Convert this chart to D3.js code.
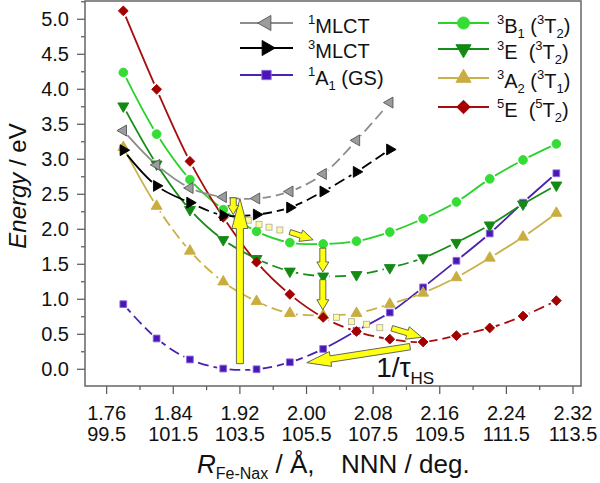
<!DOCTYPE html>
<html><head><meta charset="utf-8">
<script src="https://cdn.jsdelivr.net/npm/d3@7"></script>
<style>
body{margin:0;background:#fff}
svg text{font-family:"Liberation Sans",Arial,Helvetica,sans-serif;fill:#111}
</style>
</head><body>
<svg id="c" width="600" height="483"></svg>
<script>
// ---------------- data ----------------
const rAll = [1.78,1.82,1.86,1.90,1.94,1.98,2.02,2.06,2.10,2.14,2.18,2.22,2.26,2.30];
const rMLCT = [1.78,1.82,1.86,1.90,1.94,1.98,2.02,2.06,2.10];
const xMajor = [1.76,1.84,1.92,2.00,2.08,2.16,2.24,2.32];
const xLabelsR = ["1.76","1.84","1.92","2.00","2.08","2.16","2.24","2.32"];
const xLabelsDeg = ["99.5","101.5","103.5","105.5","107.5","109.5","111.5","113.5"];
const yMajor = [0,0.5,1,1.5,2,2.5,3,3.5,4,4.5,5];

const mlct1 = [3.41,2.92,2.59,2.46,2.44,2.54,2.79,3.27,3.81];
const mlct3 = [3.13,2.62,2.38,2.20,2.21,2.31,2.54,2.82,3.14];
const gs1A1 = [0.93,0.44,0.14,0.01,0.00,0.10,0.29,0.55,0.81,1.17,1.55,1.94,2.38,2.80];
const t3B1  = [4.24,3.36,2.71,2.28,1.97,1.81,1.79,1.83,1.96,2.15,2.39,2.72,2.99,3.22];
const t3E   = [3.76,2.93,2.28,1.85,1.58,1.40,1.33,1.35,1.45,1.59,1.81,2.06,2.36,2.63];
const t3A2  = [3.17,2.33,1.69,1.25,0.97,0.80,0.77,0.80,0.93,1.09,1.31,1.59,1.89,2.23];
const q5E   = [5.12,4.00,2.97,2.17,1.53,1.07,0.74,0.54,0.43,0.39,0.48,0.59,0.76,0.98];

// annotation arrows in data units [x1,y1,x2,y2]
const arrowUp    = [1.920,0.08,1.920,2.44];
const arrowIC    = [1.912,2.45,1.912,2.21];
const arrowISC1  = [1.980,1.96,2.008,1.85];
const arrowDown1 = [2.0196,1.73,2.0196,1.39];
const arrowDown2 = [2.0196,1.28,2.0196,0.85];
const arrowISC2  = [2.1024,0.586,2.1384,0.457];
const arrowHS    = [2.1243,0.323,2.0003,0.094];
const dots1 = [[1.930,2.13],[1.943,2.07],[1.955,2.03],[1.968,1.99]];
const dots2 = [[2.036,0.743],[2.054,0.680],[2.072,0.643],[2.088,0.594]];
const rateLabelPos = [2.0836,-0.106];

// ---------------- styles ----------------
const series = [
 {key:"gs",  xs:rAll,  ys:gs1A1, line:"#4a22b0", fill:"#4b16b5", stroke:"#8a6ee0", sym:"square", rot:0,   dashed:[[1.70,2.02]]},
 {key:"a2",  xs:rAll,  ys:t3A2,  line:"#c9b24a", fill:"#c9ad3e", stroke:"#c9ad3e", sym:"tri",    rot:0,   dashed:[[1.82,2.14]]},
 {key:"e3",  xs:rAll,  ys:t3E,   line:"#188c18", fill:"#138a13", stroke:"#138a13", sym:"tri",    rot:180, dashed:[[1.94,2.14]]},
 {key:"b1",  xs:rAll,  ys:t3B1,  line:"#2ad12a", fill:"#33dd33", stroke:"#33dd33", sym:"circle", rot:0,   dashed:[]},
 {key:"e5",  xs:rAll,  ys:q5E,   line:"#a80c0c", fill:"#a30000", stroke:"#a30000", sym:"diamond",rot:0,   dashed:[[2.02,2.40]]},
 {key:"m1",  xs:rMLCT, ys:mlct1, line:"#8c8c8c", fill:"#9c9c9c", stroke:"#555",    sym:"tri",    rot:-90, dashed:[[1.90,2.40]]},
 {key:"m3",  xs:rMLCT, ys:mlct3, line:"#000",    fill:"#000",    stroke:"#000",    sym:"tri",    rot:90,  dashed:[[1.86,2.40]]}
];
const symSize = {square:46, tri:52, circle:60, diamond:48};

const svg = d3.select("#c");
const L=85,R=581,T=1,B=386;
const x = d3.scaleLinear().domain([1.734,2.3296]).range([L,R]);
const y = d3.scaleLinear().domain([-0.239,5.261]).range([B,T]);

function symPath(sym,size){
  if(sym==="square") return d3.symbol(d3.symbolSquare,size)();
  if(sym==="diamond") return d3.symbol(d3.symbolSquare,size)();
  if(sym==="circle") return d3.symbol(d3.symbolCircle,size)();
  return d3.symbol(d3.symbolTriangle,size)();
}
function symRot(s){ return s.sym==="diamond"?45:s.rot; }

const defs = svg.append("defs");
const lineGen = d3.line().x(d=>x(d[0])).y(d=>y(d[1])).curve(d3.curveCatmullRom.alpha(0.5));

const gLines = svg.append("g");
series.forEach(s=>{
  const pts = s.xs.map((v,i)=>[v,s.ys[i]]);
  const m = defs.append("mask").attr("id","m_"+s.key).attr("maskUnits","userSpaceOnUse")
     .attr("x",0).attr("y",0).attr("width",600).attr("height",483);
  m.append("rect").attr("width",600).attr("height",483).attr("fill","#fff");
  m.selectAll("circle").data(pts).join("circle")
     .attr("cx",d=>x(d[0])).attr("cy",d=>y(d[1])).attr("r",6.3).attr("fill","#000");
  const cd = defs.append("clipPath").attr("id","cd_"+s.key);
  s.dashed.forEach(iv=>cd.append("rect").attr("x",x(iv[0])).attr("y",0).attr("width",x(iv[1])-x(iv[0])).attr("height",483));
  const solid=[]; let start=1.6;
  s.dashed.forEach(iv=>{solid.push([start,iv[0]]); start=iv[1];}); solid.push([start,2.5]);
  const cs = defs.append("clipPath").attr("id","cs_"+s.key);
  solid.forEach(iv=>{ if(iv[1]>iv[0]) cs.append("rect").attr("x",x(iv[0])).attr("y",0).attr("width",x(iv[1])-x(iv[0])).attr("height",483);});
  const g = gLines.append("g").attr("mask","url(#m_"+s.key+")");
  g.append("path").attr("d",lineGen(pts)).attr("fill","none").attr("stroke",s.line)
    .attr("stroke-width",1.8).attr("clip-path","url(#cs_"+s.key+")");
  if(s.dashed.length)
    g.append("path").attr("d",lineGen(pts)).attr("fill","none").attr("stroke",s.line)
     .attr("stroke-width",1.8).attr("stroke-dasharray","11,5").attr("clip-path","url(#cd_"+s.key+")");
});
const gMarks = svg.append("g");
series.forEach(s=>{
  const pts = s.xs.map((v,i)=>[v,s.ys[i]]);
  gMarks.append("g").selectAll("path").data(pts).join("path")
    .attr("d",symPath(s.sym,symSize[s.sym]))
    .attr("transform",d=>`translate(${x(d[0])},${y(d[1])}) rotate(${symRot(s)})`)
    .attr("fill",s.fill).attr("stroke",s.stroke).attr("stroke-width",0.9);
});

// ---------------- arrows ----------------
function arrowPath(a,sw,hw,hl){
  const x1=x(a[0]),y1=y(a[1]),x2=x(a[2]),y2=y(a[3]);
  const dx=x2-x1,dy=y2-y1,Ln=Math.hypot(dx,dy),ux=dx/Ln,uy=dy/Ln,nx=-uy,ny=ux;
  const bx=x2-ux*hl,by=y2-uy*hl;
  const p=[[x1+nx*sw,y1+ny*sw],[bx+nx*sw,by+ny*sw],[bx+nx*hw,by+ny*hw],[x2,y2],
           [bx-nx*hw,by-ny*hw],[bx-nx*sw,by-ny*sw],[x1-nx*sw,y1-ny*sw]];
  return "M"+p.map(q=>q[0].toFixed(2)+","+q[1].toFixed(2)).join("L")+"Z";
}
const gA = svg.append("g");
[dots1,dots2].forEach(ds=>{
  gA.append("g").selectAll("rect").data(ds).join("rect")
    .attr("x",d=>x(d[0])-3).attr("y",d=>y(d[1])-3).attr("width",6).attr("height",6)
    .attr("fill","#fffaa0").attr("stroke","#a8a8a0").attr("stroke-width",0.8);
});
[[arrowUp,3.5,8,30],[arrowIC,3,5.5,9],[arrowISC1,2.6,6,13],[arrowDown1,3,6,10],
 [arrowDown2,3,6,10],[arrowISC2,2.8,6.5,15],[arrowHS,3.2,7.5,24]].forEach(([a,sw,hw,hl])=>{
  gA.append("path").attr("d",arrowPath(a,sw,hw,hl)).attr("fill","#ffff10")
    .attr("stroke","#555").attr("stroke-width",0.9).attr("stroke-linejoin","miter");
});
const rl = svg.append("text").attr("x",x(rateLabelPos[0])).attr("y",y(rateLabelPos[1]))
  .attr("font-size",28);
rl.append("tspan").text("1/τ");
rl.append("tspan").attr("font-size",17).attr("dy",7).text("HS");

// ---------------- axes ----------------
const axG = svg.append("g").attr("stroke","#555").attr("stroke-width",1.2);
const xMinor = xMajor.slice(0,-1).map(v=>v+0.04);
xMajor.forEach(v=>axG.append("line").attr("x1",x(v)).attr("x2",x(v)).attr("y1",B).attr("y2",B+8));
xMinor.forEach(v=>axG.append("line").attr("x1",x(v)).attr("x2",x(v)).attr("y1",B).attr("y2",B+4));
const yMinor = yMajor.map(v=>v+0.25).filter(v=>v<5.26);
yMajor.forEach(v=>axG.append("line").attr("y1",y(v)).attr("y2",y(v)).attr("x1",L-8).attr("x2",L));
yMinor.forEach(v=>axG.append("line").attr("y1",y(v)).attr("y2",y(v)).attr("x1",L-4).attr("x2",L));
svg.append("rect").attr("x",L).attr("y",T).attr("width",R-L).attr("height",B-T)
  .attr("fill","none").attr("stroke","#666").attr("stroke-width",1.5);

svg.append("g").selectAll("text").data(yMajor).join("text")
  .attr("x",L-16).attr("y",d=>y(d)).attr("dy","0.36em").attr("text-anchor","end")
  .attr("font-size",20).text(d=>d.toFixed(1));
svg.append("g").selectAll("text").data(xMajor).join("text")
  .attr("x",d=>x(d)).attr("y",420).attr("text-anchor","middle").attr("font-size",20)
  .text((d,i)=>xLabelsR[i]);
svg.append("g").selectAll("text").data(xMajor).join("text")
  .attr("x",d=>x(d)).attr("y",441).attr("text-anchor","middle").attr("font-size",20)
  .text((d,i)=>xLabelsDeg[i]);

// axis titles
const xt = svg.append("text").attr("x",197).attr("y",473).attr("font-size",26).style("white-space","pre");
xt.append("tspan").attr("font-style","italic").text("R");
xt.append("tspan").attr("font-size",16).attr("dy",6).text("Fe-Nax");
xt.append("tspan").attr("dy",-6).text(" / Å,");
svg.append("text").attr("x",341).attr("y",473).attr("font-size",26).text("NNN / deg.");
const yt = svg.append("text").attr("transform","translate(26,186) rotate(-90)")
  .attr("text-anchor","middle").attr("font-size",24).style("white-space","pre");
yt.append("tspan").attr("font-style","italic").text("Energy");
yt.append("tspan").text(" / eV");

// ---------------- legend ----------------
function rich(sel,parts){
  let shift=0;
  parts.forEach(([t,k])=>{
    const target = k==="sup"?-9:(k==="sub"?5:0);
    const ts = sel.append("tspan").attr("dy",target-shift).text(t);
    if(k!=="n") ts.attr("font-size",13);
    shift=target;
  });
}
const legend = [
 {s:"m1", x1:240,x2:293,row:23, tx:308, parts:[["1","sup"],["MLCT","n"]]},
 {s:"m3", x1:240,x2:293,row:48, tx:308, parts:[["3","sup"],["MLCT","n"]]},
 {s:"gs", x1:240,x2:293,row:75, tx:308, parts:[["1","sup"],["A","n"],["1","sub"],[" (GS)","n"]]},
 {s:"b1", x1:438,x2:489,row:23, tx:497, parts:[["3","sup"],["B","n"],["1","sub"],[" (","n"],["3","sup"],["T","n"],["2","sub"],[")","n"]]},
 {s:"e3", x1:438,x2:489,row:49, tx:497, parts:[["3","sup"],["E  (","n"],["3","sup"],["T","n"],["2","sub"],[")","n"]]},
 {s:"a2", x1:438,x2:489,row:78, tx:497, parts:[["3","sup"],["A","n"],["2","sub"],[" (","n"],["3","sup"],["T","n"],["1","sub"],[")","n"]]},
 {s:"e5", x1:438,x2:489,row:107,tx:497, parts:[["5","sup"],["E  (","n"],["5","sup"],["T","n"],["2","sub"],[")","n"]]}
];
const lg = svg.append("g");
legend.forEach(e=>{
  const s = series.find(q=>q.key===e.s);
  lg.append("line").attr("x1",e.x1).attr("x2",e.x2).attr("y1",e.row).attr("y2",e.row)
    .attr("stroke",s.line).attr("stroke-width",1.8);
  lg.append("path").attr("d",symPath(s.sym,symSize[s.sym]*1.9))
    .attr("transform",`translate(${(e.x1+e.x2)/2},${e.row}) rotate(${symRot(s)})`)
    .attr("fill",s.fill).attr("stroke",s.stroke).attr("stroke-width",0.9);
  const t = lg.append("text").attr("x",e.tx).attr("y",e.row+9.5).attr("font-size",20).style("white-space","pre");
  rich(t,e.parts);
});
</script>
</body></html>
